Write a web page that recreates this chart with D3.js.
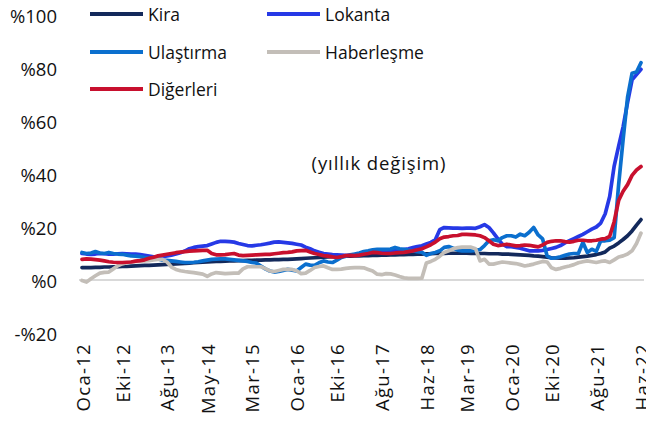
<!DOCTYPE html>
<html><head><meta charset="utf-8">
<script src="https://cdn.jsdelivr.net/npm/d3@7"></script>
<style>
html,body{margin:0;padding:0;background:#fff;}
svg{display:block;font-family:"Open Sans","Noto Sans",sans-serif;}
</style></head>
<body><svg id="c" width="646" height="421"></svg>
<script>
// Categories: monthly, Jan 2012 – Jun 2022
const months = d3.timeMonth.range(new Date(2012,0,1), new Date(2022,6,1)).map(d3.timeFormat("%Y-%m"));
const tickMonths = ["2012-01","2012-10","2013-08","2014-05","2015-03","2016-01","2016-10","2017-08","2018-06","2019-03","2020-01","2020-10","2021-08","2022-06"];
const tickLabels = ["Oca-12","Eki-12","Ağu-13","May-14","Mar-15","Oca-16","Eki-16","Ağu-17","Haz-18","Mar-19","Oca-20","Eki-20","Ağu-21","Haz-22"];
const yTicks = [-20,0,20,40,60,80,100];
const yTickLabels = ["-%20","%0","%20","%40","%60","%80","%100"];

const seriesNames = ["Kira","Lokanta","Ulaştırma","Haberleşme","Diğerleri"];
const seriesColors = ["#13295b","#2639e6","#0b6fce","#c3beb8","#c8102e"];

const kira = [
 4.7,4.7,4.7,4.8,4.8,4.9,4.9,5.0,5.0,5.1,5.1,5.2,
 5.3,5.4,5.5,5.5,5.6,5.7,5.8,5.9,6.0,6.1,6.2,6.3,
 6.4,6.5,6.6,6.7,6.8,6.9,7.0,7.0,7.1,7.2,7.2,7.3,
 7.3,7.4,7.4,7.5,7.5,7.6,7.6,7.7,7.7,7.8,7.8,7.9,
 8.0,8.1,8.2,8.3,8.4,8.5,8.6,8.7,8.8,8.9,9.0,9.0,
 9.0,9.1,9.1,9.2,9.2,9.3,9.3,9.4,9.4,9.5,9.5,9.6,
 9.6,9.7,9.7,9.8,9.8,9.9,9.9,10.0,10.0,10.0,10.1,10.1,
 10.1,10.1,10.1,10.0,10.0,10.0,10.0,9.9,9.9,9.9,9.8,9.8,
 9.7,9.6,9.5,9.4,9.3,9.1,9.0,8.8,8.6,8.4,8.3,8.2,
 8.2,8.3,8.4,8.6,8.8,9.0,9.3,9.6,10.0,10.6,12.0,12.8,
 14.0,15.3,16.7,18.5,20.7,22.8];
const lokanta = [
 10.0,9.8,9.7,9.8,10.0,9.9,9.8,9.8,9.9,10.0,9.9,9.8,
 9.8,9.6,9.3,9.0,8.7,8.6,8.8,9.1,9.4,9.8,10.3,10.9,
 11.8,12.3,12.6,12.8,13.0,13.6,14.2,14.6,14.6,14.5,14.3,13.8,
 13.4,13.0,12.9,13.1,13.3,13.6,13.9,14.3,14.4,14.2,14.0,13.8,
 13.5,13.2,12.4,11.8,11.0,10.5,10.0,9.8,9.6,9.5,9.4,9.3,
 9.4,9.6,9.8,10.1,10.4,10.8,11.0,11.0,11.0,11.0,11.1,11.1,
 11.5,11.8,12.2,12.6,12.9,13.6,14.2,15.2,19.0,19.8,19.7,19.6,
 19.6,19.5,19.6,19.6,19.5,20.1,20.9,19.8,17.8,15.5,13.5,12.6,
 12.6,12.3,12.0,11.5,11.0,11.0,11.0,11.2,11.5,11.9,12.3,13.0,
 14.0,14.8,15.6,16.4,17.2,18.2,19.2,20.0,21.5,25.0,31.5,43.0,
 50.5,57.8,67.0,75.5,77.5,79.5];
const ulastirma = [
 10.4,10.0,10.2,10.7,10.2,10.0,10.4,10.0,9.8,9.7,9.4,9.1,
 9.0,8.8,8.5,8.3,8.1,7.9,7.5,7.4,7.2,7.0,6.8,6.6,
 6.6,6.7,6.9,7.2,7.5,7.8,7.9,8.0,8.0,7.8,7.6,7.4,
 7.2,7.0,6.6,6.4,5.3,4.2,3.4,3.0,3.2,3.6,4.0,3.7,
 3.4,4.7,6.0,5.6,5.5,6.5,7.2,6.8,6.6,7.5,8.5,9.0,
 9.5,9.8,10.2,10.7,11.0,11.4,11.6,11.6,11.6,11.7,12.3,11.8,
 11.6,11.3,11.0,10.7,10.5,9.3,10.0,10.4,11.0,12.3,12.6,12.0,
 11.3,11.0,11.0,11.0,11.2,11.5,13.0,14.8,15.2,14.8,16.0,16.7,
 16.7,16.2,17.3,16.7,18.0,19.8,17.0,15.5,9.1,8.2,8.4,8.8,
 9.3,9.8,10.0,10.0,14.2,10.4,11.6,10.8,14.8,14.8,15.0,16.0,
 36.0,53.0,69.0,78.0,78.5,82.0];
const haberlesme = [
 -0.2,-0.8,0.5,1.6,2.6,2.9,3.0,4.2,5.4,6.1,6.5,6.8,
 7.0,7.1,7.2,7.3,7.6,7.8,7.8,6.8,4.9,4.0,3.5,3.2,
 3.0,2.8,2.5,2.2,1.4,2.3,2.8,2.6,2.4,2.5,2.6,2.6,
 4.2,5.0,5.0,5.0,5.0,4.3,3.4,3.2,3.6,4.0,4.0,4.0,
 3.5,2.4,2.6,3.6,4.7,5.1,5.3,4.6,4.0,4.0,4.1,4.4,
 4.6,4.7,4.7,4.6,4.0,3.4,2.2,2.0,2.4,2.3,1.9,1.3,
 0.8,0.6,0.6,0.6,0.7,6.4,7.0,7.8,9.0,10.4,11.0,11.8,
 12.2,12.4,12.4,12.4,11.8,7.2,7.8,6.0,6.0,6.4,6.8,6.6,
 6.4,6.2,5.8,5.3,5.6,6.0,6.5,7.0,6.8,4.6,4.0,4.4,
 4.9,5.3,5.8,6.5,6.9,7.2,6.9,6.6,7.0,7.2,6.6,7.6,
 8.7,9.1,9.8,11.0,13.8,17.7];
const digerleri = [
 7.8,8.0,7.9,7.7,7.5,7.2,6.9,6.7,6.6,6.6,6.7,6.8,
 7.1,7.3,7.6,8.2,8.6,9.1,9.4,9.7,10.0,10.3,10.5,10.7,
 10.9,11.0,11.1,11.2,11.2,10.0,9.5,9.5,9.6,9.8,10.0,9.4,
 9.2,9.3,9.4,9.5,9.6,9.7,9.7,9.9,10.1,10.3,10.4,10.6,
 11.0,11.1,11.2,10.6,10.0,9.6,9.2,9.0,8.7,8.5,8.8,9.2,
 9.3,9.2,9.4,9.7,10.0,10.4,10.3,10.1,10.0,10.0,10.2,10.3,
 10.4,10.7,11.0,11.4,11.8,12.5,13.3,14.3,15.6,16.2,16.4,16.7,
 16.8,17.2,17.2,17.1,17.0,16.7,16.0,14.8,13.5,13.0,13.2,13.5,
 13.2,12.9,13.0,13.2,13.1,12.8,12.5,13.2,14.2,14.6,14.8,14.8,
 14.5,14.3,14.6,15.0,15.0,14.8,14.8,15.0,15.4,15.6,16.5,22.0,
 30.0,33.5,36.0,39.5,41.5,42.8];

const seriesValues = [kira, lokanta, ulastirma, haberlesme, digerleri];

const svg = d3.select("#c");
const x = d3.scalePoint().domain(months).range([82, 641]);
const y = d3.scaleLinear().domain([-20, 100]).range([333, 15]);

// zero line
svg.append("line").attr("x1", 79).attr("x2", 644).attr("y1", y(0)).attr("y2", y(0))
  .attr("stroke", "#d9d9d9").attr("stroke-width", 2);

// y labels
svg.append("g").selectAll("text").data(yTicks).join("text")
  .attr("x", 57).attr("y", d => y(d)).attr("text-anchor", "end")
  .attr("dominant-baseline", "central").attr("font-size", 18.5).attr("fill", "#111")
  .text((d, i) => yTickLabels[i]);

// x labels
svg.append("g").selectAll("text").data(tickMonths).join("text")
  .attr("transform", d => `translate(${x(d)},343) rotate(-90)`)
  .attr("text-anchor", "end").attr("dominant-baseline", "central")
  .attr("font-size", 18.5).attr("letter-spacing", 1.3).attr("fill", "#111")
  .text((d, i) => tickLabels[i]);

// lines
const line = d3.line().x((d, i) => x(months[i])).y(d => y(d));
svg.append("g").selectAll("path").data(seriesValues).join("path")
  .attr("d", d => line(d)).attr("fill", "none")
  .attr("stroke", (d, i) => seriesColors[i]).attr("stroke-width", 3.7)
  .attr("stroke-linejoin", "round").attr("stroke-linecap", "round");

// legend
const legPos = [[90,14],[267,14],[90,52],[267,52],[90,89]];
const leg = svg.append("g").selectAll("g").data(seriesNames).join("g")
  .attr("transform", (d, i) => `translate(${legPos[i][0]},${legPos[i][1]})`);
leg.append("line").attr("x1", 0).attr("x2", 53).attr("y1", 0).attr("y2", 0)
  .attr("stroke", (d, i) => seriesColors[i]).attr("stroke-width", 4);
leg.append("text").attr("x", 58).attr("y", 0).attr("dominant-baseline", "central")
  .attr("font-size", 17.5).attr("fill", "#111").text(d => d);

// annotation
svg.append("text").attr("x", 379).attr("y", 162).attr("text-anchor", "middle")
  .attr("dominant-baseline", "central").attr("font-size", 18.5).attr("letter-spacing", 0.9).attr("fill", "#111")
  .text("(yıllık değişim)");
</script></body></html>
